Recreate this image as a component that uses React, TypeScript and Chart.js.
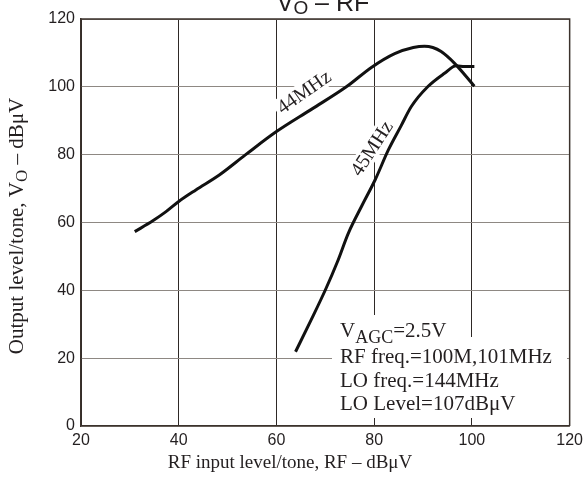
import { useEffect, useRef } from 'react';
import { Chart, registerables } from 'chart.js';

Chart.register(...registerables);

// RF input level (dBµV) and output level (dBµV) for the two curves
const rfIn44 = [31, 34.7, 37.4, 40, 43.5, 48.3, 53.7, 60, 67.3, 74.3, 79.5, 84.2, 88, 90.3, 92, 93.7, 96.4, 100.5];
const vo44 = [57.3, 60.5, 63.2, 66.2, 69.6, 74, 80, 86.8, 93.5, 100, 105.8, 109.8, 111.6, 112, 111.6, 110.4, 107, 100.2];

const rfIn45 = [63.9, 67, 70, 72.5, 74.7, 77.5, 80.2, 82.9, 85.5, 87.6, 91, 94.4, 96.8, 98.5, 100.5];
const vo45 = [21.9, 31, 40.1, 48.5, 56.8, 65, 72.6, 81.4, 88.5, 94.2, 100.1, 104, 106.2, 106, 106];

const xMin = 20, xMax = 120, yMin = 0, yMax = 120, tickStep = 20;

const curveLabels = [
  { text: '44MHz', x: 65.6, y: 98.5, angle: -35 },
  { text: '45MHz', x: 79.5, y: 81.9, angle: -57 },
];

const noteLines = [
  'RF freq.=100M,101MHz',
  'LO freq.=144MHz',
  'LO Level=107dBμV',
];

const SERIF = '"Liberation Serif", "DejaVu Serif", serif';
const SANS = '"Liberation Sans", Arial, sans-serif';
const INK = '#231f20';

type Seg = { t: string; font: string; dy: number };

function richWidth(ctx: CanvasRenderingContext2D, segs: Seg[]) {
  let w = 0;
  for (const s of segs) {
    ctx.font = s.font;
    w += ctx.measureText(s.t).width;
  }
  return w;
}

function drawRich(ctx: CanvasRenderingContext2D, segs: Seg[], x: number, y: number) {
  let cx = x;
  ctx.textAlign = 'left';
  ctx.textBaseline = 'alphabetic';
  for (const s of segs) {
    ctx.font = s.font;
    ctx.fillText(s.t, cx, y + s.dy);
    cx += ctx.measureText(s.t).width;
  }
}

const decorPlugin = {
  id: 'decor',
  beforeDatasetsDraw(chart: any) {
    const ctx: CanvasRenderingContext2D = chart.ctx;
    const { left, right, top, bottom } = chart.chartArea;
    const xs = chart.scales.x;
    const ys = chart.scales.y;

    // frame top and right
    ctx.save();
    ctx.strokeStyle = '#3b322c';
    ctx.lineWidth = 1.5;
    ctx.beginPath();
    ctx.moveTo(left, top);
    ctx.lineTo(right, top);
    ctx.lineTo(right, bottom);
    ctx.stroke();
    ctx.restore();

    // curve labels
    for (const l of curveLabels) {
      const px = xs.getPixelForValue(l.x);
      const py = ys.getPixelForValue(l.y);
      ctx.save();
      ctx.translate(px, py);
      ctx.rotate((l.angle * Math.PI) / 180);
      ctx.font = `20px ${SERIF}`;
      const w = ctx.measureText(l.text).width;
      ctx.fillStyle = '#ffffff';
      ctx.fillRect(-w / 2 - 3, -10, w + 6, 20);
      ctx.fillStyle = INK;
      ctx.textAlign = 'center';
      ctx.textBaseline = 'middle';
      ctx.fillText(l.text, 0, 1);
      ctx.restore();
    }

    // notes block
    ctx.save();
    const line1: Seg[] = [
      { t: 'V', font: `21px ${SERIF}`, dy: 0 },
      { t: 'AGC', font: `18px ${SERIF}`, dy: 6 },
      { t: '=2.5V', font: `21px ${SERIF}`, dy: 0 },
    ];
    const w1 = richWidth(ctx, line1);
    ctx.fillStyle = '#ffffff';
    ctx.fillRect(335, 315, w1 + 10, 24);
    ctx.fillRect(332, 337, 235, 81);
    ctx.fillStyle = INK;
    drawRich(ctx, line1, 340, 337);
    ctx.font = `21px ${SERIF}`;
    ctx.textAlign = 'left';
    ctx.textBaseline = 'alphabetic';
    noteLines.forEach((t, i) => {
      ctx.fillText(t, 340, 363 + i * 23.5);
    });
    ctx.restore();
  },
  afterDraw(chart: any) {
    const ctx: CanvasRenderingContext2D = chart.ctx;
    ctx.save();
    ctx.fillStyle = INK;

    // top title (partially cut)
    const title: Seg[] = [
      { t: 'V', font: `25px ${SANS}`, dy: 0 },
      { t: 'O', font: `19px ${SANS}`, dy: 3 },
      { t: ' – RF', font: `25px ${SANS}`, dy: 0 },
    ];
    const tw = richWidth(ctx, title);
    drawRich(ctx, title, 323 - tw / 2, 11);

    // x title
    const xt: Seg[] = [{ t: 'RF input level/tone, RF – dBμV', font: `19px ${SERIF}`, dy: 0 }];
    const xw = richWidth(ctx, xt);
    drawRich(ctx, xt, 290 - xw / 2, 468);

    // y title
    const yt: Seg[] = [
      { t: 'Output level/tone, V', font: `21px ${SERIF}`, dy: 0 },
      { t: 'O', font: `17px ${SERIF}`, dy: 4 },
      { t: ' – dBμV', font: `21px ${SERIF}`, dy: 0 },
    ];
    const yw = richWidth(ctx, yt);
    ctx.translate(23, 226);
    ctx.rotate(-Math.PI / 2);
    drawRich(ctx, yt, -yw / 2, 0);
    ctx.restore();
  },
};

export default function App() {
  const canvasRef = useRef<HTMLCanvasElement | null>(null);

  useEffect(() => {
    const canvas = canvasRef.current;
    if (!canvas) return;
    const chart = new Chart(canvas, {
      type: 'scatter',
      data: {
        datasets: [
          {
            label: '44MHz',
            data: rfIn44.map((x, i) => ({ x, y: vo44[i] })),
            showLine: true,
            borderColor: '#111111',
            borderWidth: 3,
            pointRadius: 0,
            cubicInterpolationMode: 'monotone',
          },
          {
            label: '45MHz',
            data: rfIn45.map((x, i) => ({ x, y: vo45[i] })),
            showLine: true,
            borderColor: '#111111',
            borderWidth: 3,
            pointRadius: 0,
            cubicInterpolationMode: 'monotone',
          },
        ],
      },
      options: {
        responsive: false,
        animation: false,
        layout: { padding: { top: 19, right: 16, left: 0, bottom: 0 } },
        plugins: {
          legend: { display: false },
          tooltip: { enabled: false },
          title: { display: false },
        },
        scales: {
          x: {
            type: 'linear',
            min: xMin,
            max: xMax,
            afterFit: (s: any) => { s.height = 54; },
            ticks: {
              stepSize: tickStep,
              padding: 5,
              color: INK,
              font: { family: SANS, size: 16 },
            },
            grid: { color: '#2e2926', lineWidth: 1, drawTicks: false },
            border: { color: '#3b322c', width: 1.5 },
          },
          y: {
            type: 'linear',
            min: yMin,
            max: yMax,
            afterFit: (s: any) => { s.width = 81; },
            ticks: {
              stepSize: tickStep,
              padding: 6,
              color: INK,
              font: { family: SANS, size: 16 },
            },
            grid: { color: '#8e8883', lineWidth: 1, drawTicks: false },
            border: { color: '#3b322c', width: 1.5 },
          },
        },
      },
      plugins: [decorPlugin],
    } as any);
    return () => chart.destroy();
  }, []);

  return (
    <div style={{ position: 'absolute', left: 0, top: 0, width: 588, height: 480, background: '#fff' }}>
      <canvas ref={canvasRef} width={588} height={480} style={{ display: 'block' }} />
    </div>
  );
}
